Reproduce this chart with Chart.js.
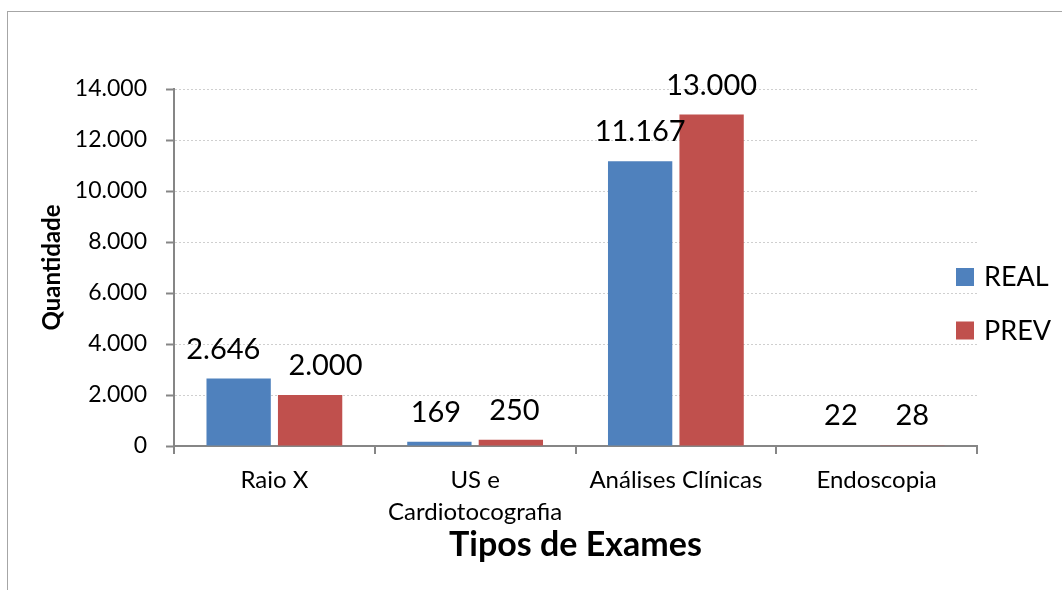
<!DOCTYPE html>
<html><head><meta charset="utf-8">
<script src="https://cdn.jsdelivr.net/npm/chart.js@4.4.1/dist/chart.umd.min.js"></script>
<style>
html,body{margin:0;padding:0;background:#fff;overflow:hidden;}
#wrap{position:relative;width:1062px;height:590px;overflow:hidden;}
#frame{position:absolute;left:7px;top:11px;width:1200px;height:800px;border:1.5px solid #A6A6A6;}
canvas{position:absolute;left:0;top:0;}
</style></head><body>
<div id="wrap"><div id="frame"></div><canvas id="c" width="1062" height="590"></canvas></div>
<script>
const categories = ['Raio X', ['US e', 'Cardiotocografia'], 'Análises Clínicas', 'Endoscopia'];
const seriesNames = ['REAL', 'PREV'];
const realValues = [2646, 169, 11167, 22];
const prevValues = [2000, 250, 13000, 28];
const yTickValues = [0, 2000, 4000, 6000, 8000, 10000, 12000, 14000];
const xTitle = 'Tipos de Exames';
const yTitle = 'Quantidade';
const seriesColors = ['#4F81BD', '#C0504D'];

function fmt(n) { return String(n).replace(/\B(?=(\d{3})+(?!\d))/g, '.'); }

const FONT = 'Lato';

const valueLabels = {
  id: 'valueLabels',
  afterDatasetsDraw(chart) {
    const ctx = chart.ctx;
    ctx.save();
    const size = 29;
    ctx.font = size + 'px ' + FONT;
    ctx.fillStyle = '#000';
    ctx.textAlign = 'center';
    ctx.textBaseline = 'alphabetic';
    const n = chart.data.labels.length;
    const metas = chart.data.datasets.map((ds, i) => chart.getDatasetMeta(i));
    for (let j = 0; j < n; j++) {
      const items = chart.data.datasets.map((ds, i) => {
        const el = metas[i].data[j];
        const text = fmt(ds.data[j]);
        return { text, x: el.x, y: el.y - 20, w: ctx.measureText(text).width };
      });
      // nudge neighbouring labels apart when they collide
      for (let k = 0; k < items.length - 1; k++) {
        const a = items[k], b = items[k + 1];
        const vOverlap = Math.abs(a.y - b.y) < size * 0.8;
        const gap = (b.x - b.w / 2) - (a.x + a.w / 2);
        const want = 28;
        if (vOverlap && gap < want) {
          const d = (want - gap) / 2;
          a.x -= d; b.x += d;
        }
      }
      items.forEach(it => ctx.fillText(it.text, it.x, it.y));
    }
    ctx.restore();
  }
};

const sideLegend = {
  id: 'sideLegend',
  afterDraw(chart) {
    const ctx = chart.ctx;
    const ca = chart.chartArea;
    ctx.save();
    ctx.font = '27px ' + FONT;
    ctx.textAlign = 'left';
    ctx.textBaseline = 'alphabetic';
    const x = ca.right - 21;
    chart.data.datasets.forEach((ds, i) => {
      const cy = 277 + i * 53.5;
      ctx.fillStyle = ds.backgroundColor;
      ctx.fillRect(x, cy - 9, 18, 18);
      ctx.fillStyle = '#000';
      ctx.fillText(ds.label, x + 28, cy + 9);
    });
    ctx.restore();
  }
};

new Chart(document.getElementById('c'), {
  type: 'bar',
  data: {
    labels: categories,
    datasets: [
      { label: seriesNames[0], data: realValues, backgroundColor: seriesColors[0] },
      { label: seriesNames[1], data: prevValues, backgroundColor: seriesColors[1] }
    ]
  },
  options: {
    responsive: false,
    animation: false,
    devicePixelRatio: 1,
    categoryPercentage: 0.712,
    barPercentage: 0.9,
    layout: { padding: { left: 10, right: 85, top: 89, bottom: 10 } },
    plugins: { legend: { display: false }, tooltip: { enabled: false } },
    scales: {
      x: {
        ticks: { color: '#000', font: { family: FONT, size: 24, lineHeight: 1.33 }, padding: 10, maxRotation: 0, autoSkip: false },
        grid: { offset: true, drawOnChartArea: false, color: '#868686', tickLength: 8, lineWidth: 2 },
        border: { color: '#868686', width: 2 },
        title: { display: true, text: xTitle, color: '#000', font: { family: FONT, size: 34, weight: 'bold' }, padding: { top: 0, bottom: 15 } },
        afterFit: s => { s.height = 134; }
      },
      y: {
        min: yTickValues[0],
        max: yTickValues[yTickValues.length - 1],
        afterBuildTicks: s => { s.ticks = yTickValues.map(v => ({ value: v })); },
        ticks: { color: '#000', font: { family: FONT, size: 23 }, padding: 19, callback: v => fmt(v) },
        grid: { color: '#CFCFCF', lineWidth: 1, tickColor: '#868686', tickWidth: 2, tickLength: 8, tickBorderDash: [] },
        border: { color: '#868686', width: 2, dash: [2, 2] },
        title: { display: true, text: yTitle, color: '#000', font: { family: FONT, size: 24, weight: 'bold' }, padding: { top: 28, bottom: 0 } },
        afterFit: s => { s.width = 164; }
      }
    }
  },
  plugins: [valueLabels, sideLegend]
});
</script>
</body></html>
